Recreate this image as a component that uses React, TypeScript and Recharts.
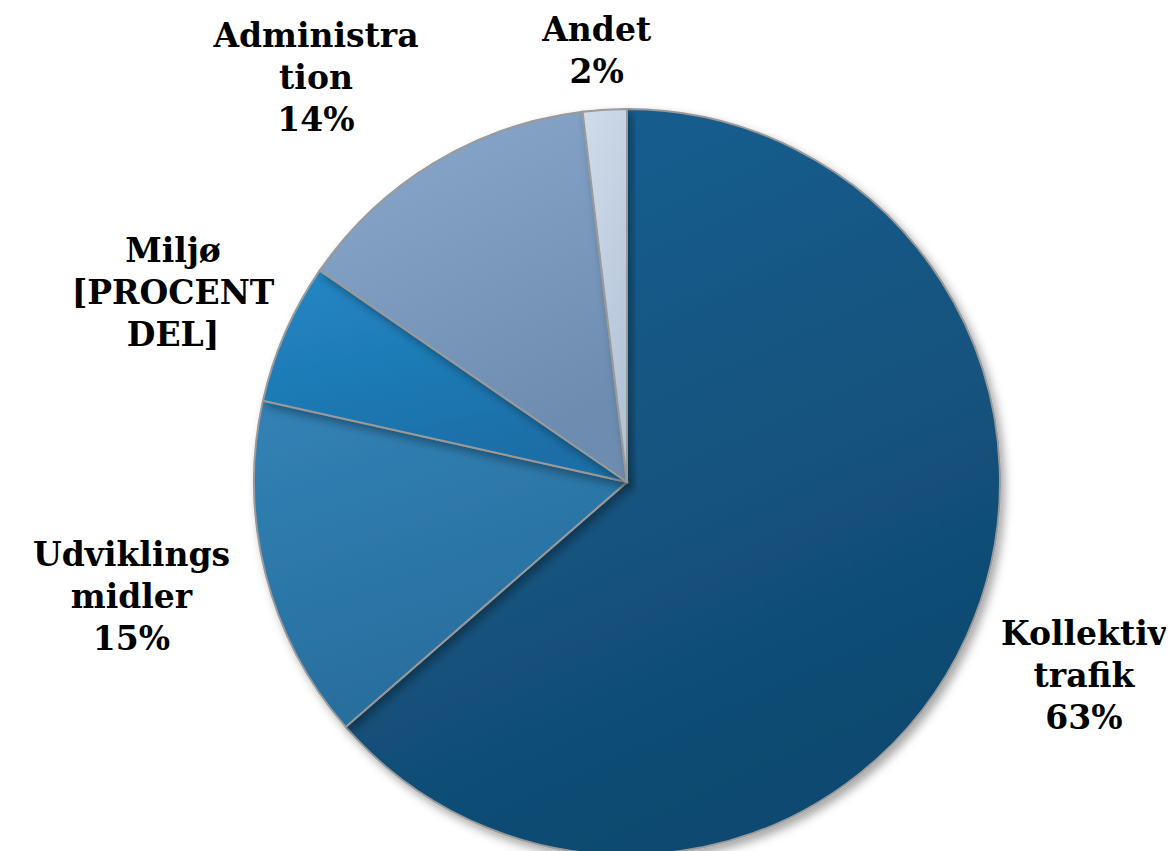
import React from 'react';
import { PieChart, Pie, Cell } from 'recharts';

const categories = ['Kollektiv trafik', 'Udviklingsmidler', 'Miljø', 'Administration', 'Andet'];
const shares = [63.6, 14.9, 6.1, 13.5, 1.9];
const labelLines = [
	['Kollektiv', 'trafik', '63%'],
	['Udviklings', 'midler', '15%'],
	['Miljø', '[PROCENT', 'DEL]'],
	['Administra', 'tion', '14%'],
	['Andet', '2%'],
];
const colorsTop = ['#1a6194', '#3282b6', '#2387c5', '#8aa9cd', '#d0dcea'];
const colorsBottom = ['#0f4a70', '#276d9c', '#1a6ea6', '#6d8cb0', '#b4c4d8'];

const data = categories.map((name, i) => ({ name, value: shares[i] }));

const WIDTH = 1166;
const HEIGHT = 860;
const RADIAN = Math.PI / 180;
const FONT = 33;
const LINE_H = 42;

// label box sits just outside the slice, pushed away along the slice direction,
// and kept inside the chart area
const renderLabel = (props: any) => {
	const { cx, cy, midAngle, outerRadius, index } = props;
	const lines = labelLines[index];
	const dx = Math.cos(-midAngle * RADIAN);
	const dy = Math.sin(-midAngle * RADIAN);
	const w = Math.max(...lines.map((l) => l.length)) * 20;
	const h = lines.length * LINE_H;
	const px = cx + (outerRadius + 35) * dx;
	const py = cy + (outerRadius + 35) * dy;
	const sx = Math.max(-1, Math.min(1, dx * 2));
	const bx = Math.min(WIDTH - w / 2, Math.max(w / 2, px + (sx * w) / 2));
	const by = py + (dy * h) / 2;
	const top = Math.max(2, by - h / 2);
	return (
		<text
			x={bx}
			y={top}
			textAnchor="middle"
			fill="#000"
			fontFamily="'DejaVu Serif', serif"
			fontWeight="bold"
			fontSize={FONT}
		>
			{lines.map((l, i) => (
				<tspan key={i} x={bx} y={top + 31 + i * LINE_H}>
					{l}
				</tspan>
			))}
		</text>
	);
};

export default function App() {
	return (
		<PieChart width={WIDTH} height={HEIGHT} margin={{ top: 0, right: 0, bottom: 0, left: 0 }}>
			<defs>
				{colorsTop.map((c, i) => (
					<linearGradient key={i} id={`slice${i}`} x1="0" y1="0" x2="0.4" y2="1">
						<stop offset="0%" stopColor={c} />
						<stop offset="100%" stopColor={colorsBottom[i]} />
					</linearGradient>
				))}
				<filter id="shadow" x="-10%" y="-10%" width="130%" height="130%">
					<feDropShadow dx="4" dy="5" stdDeviation="5" floodColor="#000" floodOpacity="0.35" />
				</filter>
			</defs>
			<Pie
				data={data}
				dataKey="value"
				nameKey="name"
				cx={619}
				cy={474}
				outerRadius={373}
				startAngle={90}
				endAngle={-270}
				stroke="#9a9a9a"
				strokeWidth={2}
				label={renderLabel}
				labelLine={false}
				isAnimationActive={false}
				style={{ filter: 'url(#shadow)' }}
			>
				{data.map((d, i) => (
					<Cell key={d.name} fill={`url(#slice${i})`} />
				))}
			</Pie>
		</PieChart>
	);
}
